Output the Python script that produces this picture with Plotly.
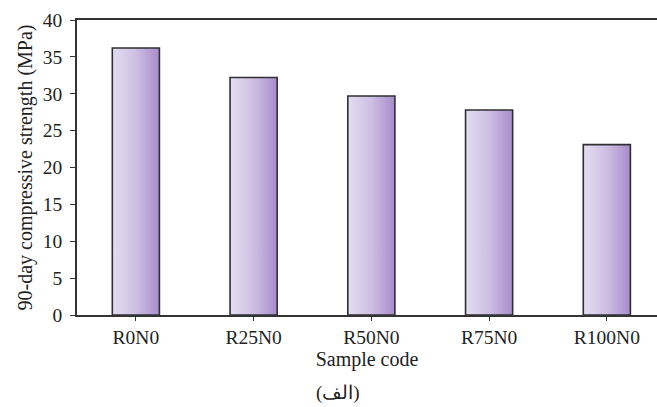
import plotly.graph_objects as go

categories = ["R0N0", "R25N0", "R50N0", "R75N0", "R100N0"]
strength = [36.2, 32.2, 29.7, 27.8, 23.1]
y_ticks = [0, 5, 10, 15, 20, 25, 30, 35, 40]

bar_width = 0.4
positions = list(range(len(categories)))

fig = go.Figure()
for i, v in zip(positions, strength):
    x0, x1 = i - bar_width / 2, i + bar_width / 2
    fig.add_trace(go.Scatter(
        x=[x0, x1, x1, x0, x0],
        y=[0, 0, v, v, 0],
        mode="lines",
        fill="toself",
        fillgradient=dict(type="horizontal",
                          colorscale=[[0, "#e4def0"], [0.5, "#cdbfe3"], [1, "#a88ccb"]]),
        line=dict(color="#2f2f35", width=1.6),
        hoverinfo="skip",
        showlegend=False,
    ))

fam = "Liberation Serif, Times New Roman, serif"
tickfont = dict(family=fam, size=19.5, color="#222")

fig.update_layout(
    width=657, height=407,
    margin=dict(l=77, r=0, t=20, b=92),
    paper_bgcolor="white", plot_bgcolor="white",
    font=tickfont,
    xaxis=dict(
        range=[-0.5, 4.426],
        tickvals=positions, ticktext=categories,
        showgrid=False, zeroline=False,
        showline=True, linecolor="#333", linewidth=1.5, mirror=True,
        ticks="outside", ticklen=4, tickcolor="#333",
        title=dict(text="Sample code", standoff=4,
                   font=dict(family=fam, size=20, color="#222")),
        tickfont=tickfont,
    ),
    yaxis=dict(
        range=[0, 40], tickvals=y_ticks,
        showgrid=False, zeroline=False,
        showline=True, linecolor="#333", linewidth=1.5,
        ticks="outside", ticklen=5, tickcolor="#333",
        ticklabelstandoff=4,
        title=dict(text="90-day compressive strength (MPa)", standoff=5,
                   font=dict(family=fam, size=20, color="#222")),
        tickfont=tickfont,
    ),
    annotations=[dict(
        text="(الف)", xref="paper", yref="paper",
        x=(338 - 77) / 580, y=-0.265, yanchor="middle", showarrow=False,
        font=dict(family=fam, size=19, color="#222"),
    )],
)

fig.write_html("out.html")
